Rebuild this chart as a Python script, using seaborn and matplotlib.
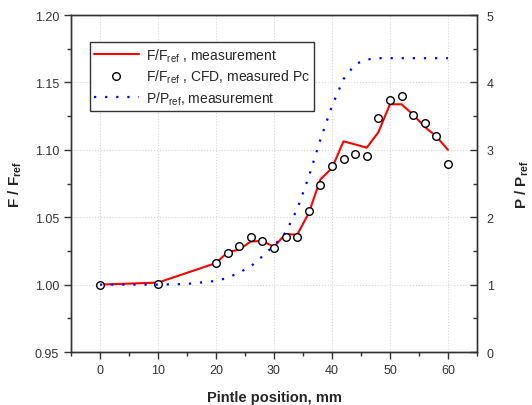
import numpy as np
import pandas as pd
import matplotlib
matplotlib.use('Agg')
import matplotlib.pyplot as plt
import seaborn as sns
from matplotlib.ticker import MultipleLocator
from matplotlib.lines import Line2D

# dados
pos_med = [0, 10, 20, 22, 24, 26, 28, 30, 32, 34, 36, 38, 40, 42, 44, 46, 48, 50, 52, 54, 56, 58, 60]
f_med = [1.000, 1.0015, 1.016, 1.024, 1.026, 1.032, 1.0324, 1.028, 1.0376, 1.037, 1.053, 1.078,
         1.0865, 1.1063, 1.104, 1.1016, 1.113, 1.1338, 1.1338, 1.1261, 1.117, 1.110, 1.100]

pos_cfd = [0, 10, 20, 22, 24, 26, 28, 30, 32, 34, 36, 38, 40, 42, 44, 46, 48, 50, 52, 54, 56, 58, 60]
f_cfd = [1.000, 1.0007, 1.016, 1.0235, 1.0284, 1.0351, 1.0324, 1.027, 1.0354, 1.0356, 1.0549, 1.0742,
         1.088, 1.093, 1.0967, 1.0957, 1.1236, 1.1368, 1.1397, 1.1261, 1.1202, 1.110, 1.0895]

pos_p = [0, 10, 15, 20, 22, 24, 26, 28, 30, 32, 34, 36, 38, 40, 42, 44, 46, 48, 50, 52, 54, 56, 58, 60]
p_med = [1.0, 1.0, 1.01, 1.055, 1.1, 1.18, 1.27, 1.42, 1.58, 1.77, 2.12, 2.6, 3.15, 3.65, 4.05,
         4.27, 4.34, 4.36, 4.36, 4.36, 4.36, 4.36, 4.36, 4.36]

df_med = pd.DataFrame({'pos': pos_med, 'F': f_med})
df_cfd = pd.DataFrame({'pos': pos_cfd, 'F': f_cfd})
df_p = pd.DataFrame({'pos': pos_p, 'P': p_med})

sns.set_style("ticks")
plt.rcParams['font.family'] = ['Liberation Sans', 'DejaVu Sans']
plt.rcParams['mathtext.fontset'] = 'custom'
plt.rcParams['mathtext.rm'] = 'Liberation Sans'
plt.rcParams['mathtext.bf'] = 'Liberation Sans:bold'
plt.rcParams['mathtext.it'] = 'Liberation Sans:italic'

fig = plt.figure(figsize=(5.32, 4.06), dpi=100)
ax = fig.add_axes([0.1335, 0.1305, 0.763, 0.83])
ax2 = ax.twinx()

sns.lineplot(data=df_med, x='pos', y='F', ax=ax, color='red', lw=1.5, zorder=3)
sns.scatterplot(data=df_cfd, x='pos', y='F', ax=ax, s=30, facecolor='white',
                edgecolor='black', linewidth=1.0, zorder=4)
sns.lineplot(data=df_p, x='pos', y='P', ax=ax2, color='blue', lw=1.6,
             linestyle=(0, (1, 4)))

ax.set_xlim(-5, 65)
ax.set_ylim(0.95, 1.20)
ax2.set_ylim(0, 5)
ax.xaxis.set_major_locator(MultipleLocator(10))
ax.xaxis.set_minor_locator(MultipleLocator(5))
ax.yaxis.set_major_locator(MultipleLocator(0.05))
ax.yaxis.set_minor_locator(MultipleLocator(0.025))
ax2.yaxis.set_major_locator(MultipleLocator(1))
ax2.yaxis.set_minor_locator(MultipleLocator(0.5))
ax.yaxis.set_major_formatter(matplotlib.ticker.FormatStrFormatter('%.2f'))

ax.grid(True, which='major', color='#d4d4d4', linestyle=':', lw=0.8)
ax.set_axisbelow(True)

for a in (ax, ax2):
    for s in a.spines.values():
        s.set_color('#333333')
        s.set_linewidth(1.0)
ax.tick_params(which='major', direction='out', length=5, width=1, labelsize=9,
               labelcolor='#333333', color='#333333', top=False)
ax.tick_params(which='minor', direction='out', length=3, width=1, color='#333333', top=False)
ax2.tick_params(which='major', direction='in', length=5, width=1, labelsize=9, pad=7,
                labelcolor='#333333', color='#333333')
ax2.tick_params(which='minor', direction='in', length=3, width=1, color='#333333')

ax.set_xlabel('Pintle position, mm', fontsize=10.5, fontweight='bold', labelpad=10)
ax.set_ylabel(r'$\mathbf{F\ /\ F_{ref}}$', fontsize=11, labelpad=8)
ax2.set_ylabel(r'$\mathbf{P\ /\ P_{ref}}$', fontsize=11, labelpad=14)

handles = [Line2D([], [], color='red', lw=1.5),
           Line2D([], [], marker='o', ls='none', markerfacecolor='white',
                  markeredgecolor='black', markersize=5.5),
           Line2D([], [], color='blue', lw=1.6, linestyle=(0, (1, 4)))]
labels = [r'F/F$_{\mathrm{ref}}$ , measurement',
          r'F/F$_{\mathrm{ref}}$ , CFD, measured Pc',
          r'P/P$_{\mathrm{ref}}$, measurement']
leg = ax2.legend(handles, labels, loc='upper left', bbox_to_anchor=(0.047, 0.92),
                 borderaxespad=0, fontsize=10, frameon=True, fancybox=False,
                 edgecolor='#333333', handlelength=3.2, labelspacing=0.3,
                 borderpad=0.3, handletextpad=0.5)
leg.get_frame().set_linewidth(1.0)
leg.get_frame().set_alpha(1)

fig.savefig('out.png', dpi=100)
